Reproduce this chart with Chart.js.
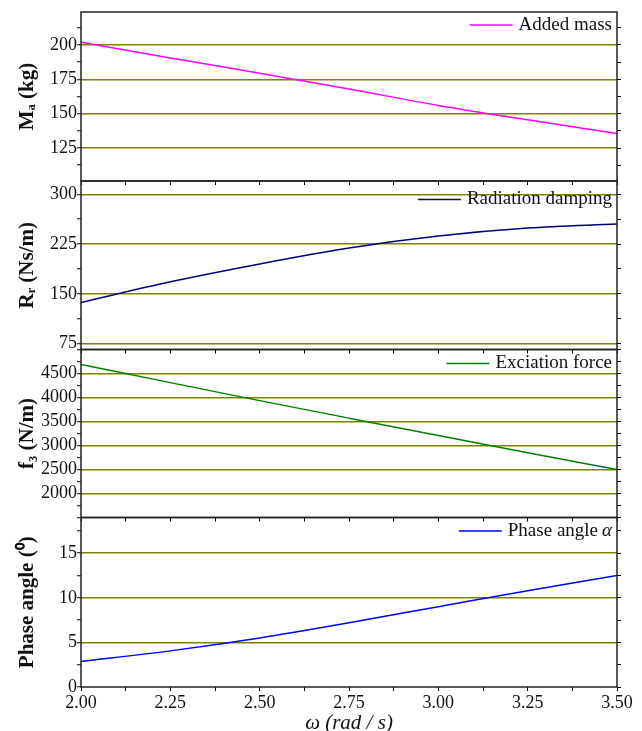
<!DOCTYPE html>
<html>
<head>
<meta charset="utf-8">
<title>Hydrodynamic coefficients vs frequency</title>
<script src="https://cdn.jsdelivr.net/npm/chart.js"></script>
<style>
  body { margin: 0; background: #fff; }
  #wrap { position: relative; width: 642px; height: 731px; }
  #wrap canvas { position: absolute; left: 0; top: 0; }
</style>
</head>
<body>
<div id="wrap">
  <canvas id="c1" width="642" height="731"></canvas>
  <canvas id="c2" width="642" height="731"></canvas>
  <canvas id="c3" width="642" height="731"></canvas>
  <canvas id="c4" width="642" height="731"></canvas>
</div>
<script>
// frequency (rad/s)
const omega = [2.00, 2.25, 2.50, 2.75, 3.00, 3.25, 3.50];
// values
const addedMass = [202, 190.5, 179.5, 168, 156, 145.5, 135.5];
const radiationDamping = [137, 168, 195, 219, 237, 249, 255];
const excitationForce = [4690, 4310, 3935, 3570, 3210, 2850, 2500];
const phaseAngle = [2.85, 4.05, 5.5, 7.2, 9.0, 10.8, 12.5];

// tick labels
const xTicks = [2.00, 2.25, 2.50, 2.75, 3.00, 3.25, 3.50];
const massTicks = [125, 150, 175, 200];
const dampingTicks = [75, 150, 225, 300];
const forceTicks = [2000, 2500, 3000, 3500, 4000, 4500];
const phaseTicks = [0, 5, 10, 15];

const H = 731;
const OLIVE = '#808000';

Chart.defaults.font.family = "'Liberation Serif', 'Times New Roman', serif";
Chart.defaults.color = '#111';

const panels = [
  { id: 'c1', label: 'Added mass', color: '#ff00ff', data: addedMass, title: 'Mₐ (kg)',
    min: 101, max: 224, major: massTicks, minor: 12.5, top: 12, bottom: 181, legendDy: 13 },
  { id: 'c2', label: 'Radiation damping', color: '#000080', data: radiationDamping, title: 'Rᵣ (Ns/m)',
    min: 66, max: 320, major: dampingTicks, minor: 37.5, top: 181, bottom: 349.5, legendDy: 18.5 },
  { id: 'c3', label: 'Exciation force', color: '#008000', data: excitationForce, title: 'f₃ (N/m)',
    min: 1500, max: 5000, major: forceTicks, minor: 250, top: 349.5, bottom: 517.5, legendDy: 14 },
  { id: 'c4', label: 'Phase angle α', color: '#0000ff', data: phaseAngle, title: 'Phase angle (⁰)',
    min: 0, max: 19, major: phaseTicks, minor: 2.5, top: 517.5, bottom: 687, legendDy: 13.5 }
];

function isMajor(v, major) {
  return major.some(m => Math.abs(m - v) < 1e-6);
}

// major ticks plus minor ones in between, inside [min, max]
function tickList(min, max, major, step) {
  const out = [];
  for (let v = major[0]; v >= min - 1e-9; v -= step) out.push(v);
  for (let v = major[0] + step; v <= max + 1e-9; v += step) out.push(v);
  return out.sort((a, b) => a - b).map(v => ({ value: +v.toFixed(4) }));
}

const frame = {
  id: 'frame',
  afterDatasetsDraw(chart) {
    const { ctx, chartArea: a } = chart;
    ctx.save();
    ctx.strokeStyle = '#222';
    ctx.lineWidth = 1.5;
    ctx.strokeRect(a.left, a.top, a.right - a.left, a.bottom - a.top);
    ctx.restore();
  }
};

// legend drawn inside the plot, top right
const insideLegend = {
  id: 'insideLegend',
  afterDatasetsDraw(chart, args, opts) {
    const ds = chart.data.datasets[0];
    const { ctx, chartArea: a } = chart;
    const y = a.top + opts.dy;
    let right = a.right - 5;
    ctx.save();
    ctx.textBaseline = 'middle';
    ctx.textAlign = 'right';
    ctx.fillStyle = '#111';
    let text = ds.label;
    let width = 0;
    const greek = text.match(/ ([α-ω])$/);
    if (greek) {
      ctx.font = 'italic 19px "Liberation Serif"';
      ctx.fillText(greek[1], right, y);
      const gw = ctx.measureText(greek[1]).width + 4;
      right -= gw;
      width += gw;
      text = text.slice(0, -2);
    }
    ctx.font = '19px "Liberation Serif"';
    ctx.fillText(text, right, y);
    width += ctx.measureText(text).width;
    const x1 = a.right - 5 - width - 6;
    ctx.strokeStyle = ds.borderColor;
    ctx.lineWidth = 1.5;
    ctx.beginPath();
    ctx.moveTo(x1 - 43, y);
    ctx.lineTo(x1, y);
    ctx.stroke();
    ctx.restore();
  }
};

const xTickList = tickList(2.0, 3.5, xTicks, 0.125);

panels.forEach((p, i) => {
  const last = i === panels.length - 1;
  const yTicks = tickList(p.min, p.max, p.major, p.minor);
  new Chart(document.getElementById(p.id), {
    type: 'line',
    data: {
      datasets: [{
        label: p.label,
        data: omega.map((x, k) => ({ x: x, y: p.data[k] })),
        borderColor: p.color,
        borderWidth: 1.5,
        pointRadius: 0,
        cubicInterpolationMode: 'monotone',
        fill: false
      }]
    },
    options: {
      responsive: false,
      animation: false,
      layout: { padding: { left: 0, right: 0, top: p.top, bottom: last ? 0 : H - p.bottom } },
      plugins: {
        legend: { display: false },
        tooltip: { enabled: false },
        insideLegend: { dy: p.legendDy }
      },
      scales: {
        x: {
          type: 'linear',
          min: 2.0,
          max: 3.5,
          afterBuildTicks: s => { s.ticks = xTickList.map(t => ({ value: t.value })); },
          afterFit: s => { s.height = last ? 44 : 0; },
          border: { display: false },
          grid: { drawOnChartArea: false, drawTicks: true, tickLength: 4, tickColor: '#000', lineWidth: 1 },
          ticks: {
            display: last, autoSkip: false, maxRotation: 0, padding: 1,
            font: { size: 18 }, color: '#111',
            callback: v => isMajor(v, xTicks) ? v.toFixed(2) : ''
          },
          title: {
            display: last, text: 'ω (rad / s)', color: '#111',
            font: { size: 21, style: 'italic', lineHeight: 1 },
            padding: { top: 0, bottom: -3 }
          }
        },
        y: {
          position: 'left',
          min: p.min,
          max: p.max,
          afterBuildTicks: s => { s.ticks = yTicks.map(t => ({ value: t.value })); },
          afterFit: s => { s.width = 81; },
          border: { display: false },
          grid: {
            color: c => (isMajor(c.tick.value, p.major) && c.tick.value > p.min && c.tick.value < p.max) ? OLIVE : 'rgba(0,0,0,0)',
            lineWidth: 1.5,
            tickColor: '#000',
            tickWidth: 1,
            tickLength: 4
          },
          ticks: {
            autoSkip: false, padding: 0, font: { size: 18 }, color: '#111',
            callback: v => isMajor(v, p.major) ? String(v) : ''
          },
          title: {
            display: true, text: p.title, color: '#111',
            font: { size: 21, weight: 'bold' },
            padding: { top: 15, bottom: 0 }
          }
        },
        yRight: {
          position: 'right',
          min: p.min,
          max: p.max,
          afterBuildTicks: s => { s.ticks = yTicks.map(t => ({ value: t.value })); },
          afterFit: s => { s.width = 25; },
          border: { display: false },
          grid: { drawOnChartArea: false, tickColor: '#000', tickWidth: 1, tickLength: 4 },
          ticks: { display: false, autoSkip: false }
        }
      }
    },
    plugins: [frame, insideLegend]
  });
});
</script>
</body>
</html>
